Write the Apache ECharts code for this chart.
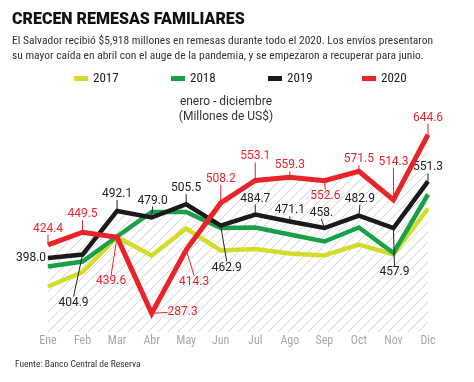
<!DOCTYPE html>
<html>
<head>
<meta charset="utf-8">
<script src="https://cdn.jsdelivr.net/npm/echarts@6/dist/echarts.min.js"></script>
<style>html,body{margin:0;padding:0;background:#fff;}#c{width:474px;height:382px;}</style>
</head>
<body>
<div id="c"></div>
<script>
const months = ['Ene','Feb','Mar','Abr','May','Jun','Jul','Ago','Sep','Oct','Nov','Dic'];
const seriesNames = ['2017','2018','2019','2020'];
const v2017 = [341, 370, 440, 403, 457, 413, 416, 407, 403, 425, 405, 497];
const v2018 = [381, 391, 441, 490, 490, 458, 459, 445, 431, 459, 408, 525];
const v2019 = [398.0, 404.9, 492.1, 479.0, 505.5, 462.9, 484.7, 471.1, 458.0, 482.9, 457.9, 551.3];
const v2020 = [424.4, 449.5, 439.6, 287.3, 414.3, 508.2, 553.1, 559.3, 552.6, 571.5, 514.3, 644.6];
const labels2019 = ['398.0','404.9','492.1','479.0','505.5','462.9','484.7','471.1','458.','482.9','457.9','551.3'];
const labels2020 = ['424.4','449.5','439.6','287.3','414.3','508.2','553.1','559.3','552.6','571.5','514.3','644.6'];

// label placement (layout only)
const off2019 = [[-17,0],[-9,48],[0,-17],[1,-17],[0,-16],[6,42],[0,-16],[0,-11],[-3,-15],[1,-17],[1,44],[0,-14]];
const off2020 = [[0,-16],[0,-18],[-6,44],[31,-1],[8,32],[0,-24],[0,-24],[0,-12],[1,15],[0,-12],[0,-38],[0,-17]];
const legendLeft = [69, 166, 263, 357];

const colors = ['#d3dc2b','#17a048','#1a1a1a','#e8232a'];
const font = "Roboto,sans-serif";
const narrow = "'Liberation Sans Narrow','Roboto Condensed','DejaVu Sans Condensed',Roboto,sans-serif";

const pc = document.createElement('canvas');
pc.width = 10; pc.height = 10;
const g = pc.getContext('2d');
g.strokeStyle = '#d2d2d2'; g.lineWidth = 1;
g.beginPath();
g.moveTo(0,10); g.lineTo(10,0);
g.moveTo(-5,5); g.lineTo(5,-5);
g.moveTo(5,15); g.lineTo(15,5);
g.stroke();
const hatch = {image: pc, repeat: 'repeat'};

function mainSeries(name, data, color, width, z, labels, offs, labColor) {
  const s = {
    name: name, type: 'line', z: z, data: data.map(function(v, i){
      return {value: v, labelLine: {show: labels ? (i !== 0 || name !== '2019') : false}};
    }),
    symbol: 'circle', symbolSize: 1, showSymbol: true,
    itemStyle: {color: color},
    lineStyle: {color: color, width: width, join: 'miter'},
    emphasis: {disabled: true},
    animation: false
  };
  if (labels) {
    s.label = {show: true, position: 'inside', color: labColor, fontSize: 12, fontFamily: font,
      formatter: function(p){ return labels[p.dataIndex]; }};
    s.labelLine = {show: true, lineStyle: {color: labColor, width: 1}};
    s.labelLayout = function(p){ const o = offs[p.dataIndex]; return {dx: o[0], dy: o[1]}; };
  } else {
    s.label = {show: false};
  }
  return s;
}

const chart = echarts.init(document.getElementById('c'), null, {renderer: 'canvas'});
chart.setOption({
  animation: false,
  title: [
    {text: 'CRECEN REMESAS FAMILIARES', left: 7, top: 7,
     textStyle: {fontSize: 16, fontWeight: 900, color: '#111', fontFamily: font}},
    {text: 'El Salvador recibió $5,918 millones en remesas durante todo el 2020. Los envíos presentaron\nsu mayor caída en abril con el auge de la pandemia, y se empezaron a recuperar para junio.',
     left: 7, top: 29,
     textStyle: {fontSize: 11.5, fontWeight: 'normal', color: '#333', lineHeight: 14.5, fontFamily: narrow}},
    {text: 'enero - diciembre\n(Millones de US$)', left: 221, top: 89, textAlign: 'center',
     textStyle: {fontSize: 12, fontWeight: 'normal', color: '#333', lineHeight: 15.5, fontFamily: font}},
    {text: 'Fuente: Banco Central de Reserva', left: 10, top: 355,
     textStyle: {fontSize: 9.5, fontWeight: 'normal', color: '#333', fontFamily: narrow}}
  ],
  legend: seriesNames.map(function(n, i){
    return {data: [n], left: legendLeft[i], top: 67, icon: 'rect', itemWidth: 14, itemHeight: 5,
      textStyle: {fontSize: 13, color: '#222', fontFamily: narrow}, selectedMode: false};
  }),
  grid: {left: 48, right: 46, top: 132, bottom: 50},
  xAxis: {
    type: 'category', data: months, boundaryGap: false,
    axisLine: {show: false}, axisTick: {show: false}, splitLine: {show: false},
    axisLabel: {color: '#a8a8a8', fontSize: 12, margin: 3, fontFamily: narrow}
  },
  yAxis: {type: 'value', min: 250, max: 650, show: false, splitLine: {show: false}},
  series: [
    {name: 'hatch2019', type: 'line', data: v2019, z: 1, silent: true, symbol: 'none',
     lineStyle: {width: 0, opacity: 0}, areaStyle: {color: hatch, opacity: 1}, animation: false},
    {name: 'hatch2020', type: 'line', data: v2020, z: 1, silent: true, symbol: 'none',
     lineStyle: {width: 0, opacity: 0}, areaStyle: {color: hatch, opacity: 1}, animation: false},
    mainSeries('2017', v2017, colors[0], 4.5, 2, null),
    mainSeries('2018', v2018, colors[1], 4.5, 3, null),
    mainSeries('2019', v2019, colors[2], 4.5, 4, labels2019, off2019, '#222'),
    mainSeries('2020', v2020, colors[3], 5, 5, labels2020, off2020, '#e8232a')
  ]
});
</script>
</body>
</html>
